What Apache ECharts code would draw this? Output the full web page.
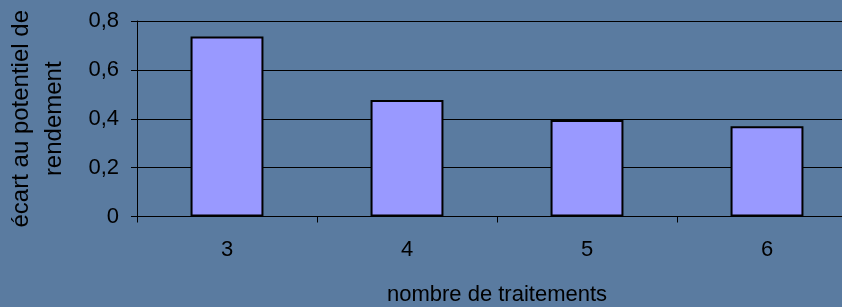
<!DOCTYPE html>
<html>
<head>
<meta charset="utf-8">
<script src="https://cdn.jsdelivr.net/npm/echarts@6/dist/echarts.min.js"></script>
<style>
html,body{margin:0;padding:0;background:#5a7ba0;}
#chart{width:842px;height:307px;}
</style>
</head>
<body>
<div id="chart"></div>
<script>
const categories = ['3', '4', '5', '6'];
const values = [0.737, 0.477, 0.395, 0.369];
const yTicks = [0, 0.2, 0.4, 0.6, 0.8];
const xTitle = 'nombre de traitements';
const yTitle = 'écart au potentiel de\nrendement';

const chart = echarts.init(document.getElementById('chart'), null, {renderer: 'canvas'});
const font = '"Liberation Sans", Arial, sans-serif';
chart.setOption({
  backgroundColor: '#5a7ba0',
  animation: false,
  grid: {left: 137, top: 21, width: 720, height: 195.5, containLabel: false, outerBoundsMode: 'none'},
  xAxis: {
    type: 'category',
    data: categories,
    name: xTitle,
    nameLocation: 'middle',
    nameGap: 67,
    nameTextStyle: {color: '#000', fontSize: 22, fontFamily: font},
    axisLine: {lineStyle: {color: '#000', width: 1}},
    axisTick: {show: true, length: 6, lineStyle: {color: '#000'}},
    axisLabel: {color: '#000', fontSize: 22, fontFamily: font, margin: 22},
    splitLine: {show: false}
  },
  yAxis: {
    type: 'value',
    min: 0,
    max: 0.8,
    interval: 0.2,
    name: yTitle,
    nameLocation: 'middle',
    nameRotate: 90,
    nameGap: 66,
    nameTextStyle: {color: '#000', fontSize: 24, fontFamily: font, lineHeight: 33, align: 'center'},
    axisLine: {show: true, lineStyle: {color: '#000', width: 1}},
    axisTick: {show: true, length: 6, lineStyle: {color: '#000'}},
    axisLabel: {
      color: '#000', fontSize: 22, fontFamily: font, margin: 18,
      formatter: v => {
        const t = yTicks.find(x => Math.abs(x - v) < 1e-9);
        return (t === undefined ? v : t).toString().replace('.', ',');
      }
    },
    splitLine: {show: true, lineStyle: {color: '#000', width: 1}}
  },
  series: [{
    type: 'bar',
    data: values,
    barWidth: '40.5%',
    itemStyle: {color: '#9999ff', borderColor: '#000', borderWidth: 2}
  }]
});
</script>
</body>
</html>
